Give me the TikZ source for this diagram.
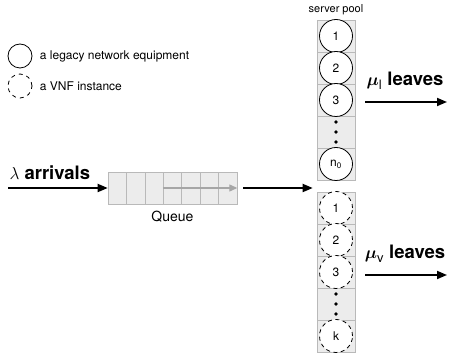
\documentclass[tikz,border=0pt]{standalone}
\usepackage{amsmath}
\usepackage{fontspec}
\setmainfont{TeX Gyre Heros}
\usetikzlibrary{calc,arrows.meta,positioning}

\tikzset{
  cell/.style={draw=gray!55, fill=gray!15, line width=0.6pt, minimum width=38pt,
    minimum height=32pt, inner sep=0pt},
  qcell/.style={cell, minimum width=18.43pt},
  legacy/.style={circle, draw, fill=white, line width=0.8pt, minimum size=33pt,
    inner sep=0pt, font=\fontsize{12}{14}\selectfont},
  vnf/.style={legacy, dash pattern=on 4pt off 3.5pt},
  flow/.style={-{Triangle[length=10pt,width=8pt]}, line width=1.8pt},
  big/.style={font=\fontsize{18.5}{20}\selectfont\bfseries},
  small/.style={font=\fontsize{12}{14}\selectfont}
}

\begin{document}
\begin{tikzpicture}[x=1pt,y=-1pt]
\useasboundingbox (0,0) rectangle (451,358);
% legend
\node[legacy, minimum size=24pt] (lg1) at (20,56) {};
\node[small, right=4pt of lg1] {a legacy network equipment};
\node[vnf, minimum size=24pt, dash pattern=on 4pt off 4pt] (lg2) at (20,86) {};
\node[small, right=4pt of lg2] {a VNF instance};
% queue
\foreach \i in {1,...,7} {
  \node[qcell] (q\i) at ({108+18.43*(\i-0.5)},188) {};
}
\draw[gray!70, line width=1.2pt, -{Triangle[length=8pt,width=7pt]}] (q4.west) -- (q7.east);
\node[font=\fontsize{14}{16}\selectfont, below=3pt of q4] (qlab) {Queue};
\coordinate (src) at (8,188);
\draw[flow] (src) -- (q1.west);
\node[big, anchor=south west] at (6,183) {$\lambda$ arrivals};
% server pool: legacy equipment
\foreach \i in {1,...,5} {
  \node[cell] (a\i) at (336,{4+32*\i}) {};
}
\foreach \i/\t in {1/1,2/2,3/3,5/n\textsubscript{0}} {
  \node[legacy] (s\i) at (a\i) {\t};
}
\foreach \d in {-10,0,10} {\fill ($(a4)+(0,\d)$) circle (1.8);}
\node[font=\fontsize{11}{13}\selectfont, above=1pt of a1] {server pool};
% server pool: VNF instances
\foreach \i in {1,...,5} {
  \node[cell] (b\i) at (336,{176+32*\i}) {};
}
\foreach \i/\t in {1/1,2/2,3/3,5/k} {
  \node[vnf] (v\i) at (b\i) {\t};
}
\foreach \d in {-10,0,10} {\fill ($(b4)+(0,\d)$) circle (1.8);}
% flows
\coordinate (gap) at ($(a5.south west)!0.5!(b1.north west)+(-4,0)$);
\draw[flow] ($(q7.east)+(6,0)$) -- (gap |- q7);
\coordinate (outl) at (447,102);
\draw[flow] ($(a3.east)+(10,2)$) -- (outl);
\node[big, anchor=south] at (405,93) {$\boldsymbol{\mu}_{\mathrm{l}}$ leaves};
\coordinate (outv) at (447,275);
\draw[flow] ($(b3.east)+(10,3)$) -- (outv);
\node[big, anchor=south] at (405,266) {$\boldsymbol{\mu}_{\mathrm{v}}$ leaves};
\end{tikzpicture}
\end{document}
